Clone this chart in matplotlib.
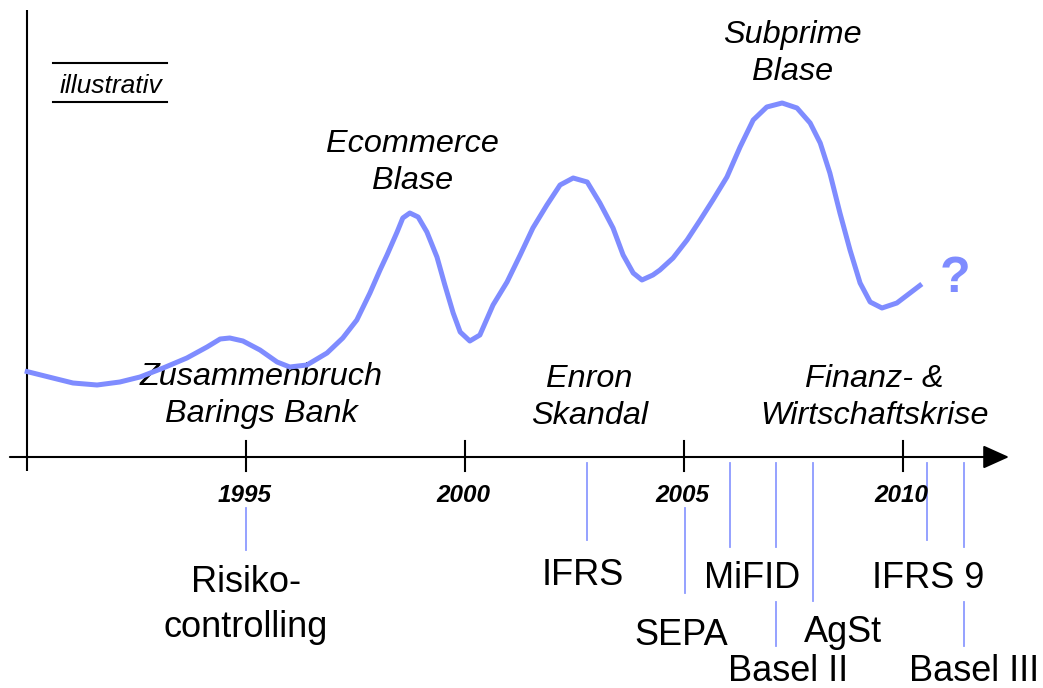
import matplotlib
matplotlib.use("Agg")
import matplotlib.pyplot as plt

plt.rcParams['font.family'] = ['Liberation Sans', 'DejaVu Sans']

# ---- data (illustrative index) ----
years = [1989.95, 1990.59, 1991.05, 1991.60, 1992.12, 1992.58, 1993.11, 1993.65,
         1994.11, 1994.41, 1994.63, 1994.93, 1995.32, 1995.71, 1996.00, 1996.39,
         1996.85, 1997.21, 1997.53, 1997.83, 1998.06, 1998.22, 1998.45, 1998.58,
         1998.74, 1998.93, 1999.13, 1999.36, 1999.54, 1999.73, 1999.89, 2000.11,
         2000.34, 2000.64, 2000.96, 2001.26, 2001.55, 2001.87, 2002.17, 2002.47,
         2002.79, 2003.08, 2003.38, 2003.61, 2003.84, 2004.04, 2004.29, 2004.45,
         2004.75, 2005.07, 2005.37, 2005.66, 2005.98, 2006.28, 2006.58, 2006.89,
         2007.24, 2007.58, 2007.88, 2008.11, 2008.33, 2008.56, 2008.79, 2009.02,
         2009.25, 2009.52, 2009.86, 2010.16, 2010.43]
level = [86, 79, 74, 72, 75, 80, 89, 99,
         110, 118, 119, 116, 107, 95, 90, 92,
         104, 119, 137, 164, 187, 202, 225, 239,
         244, 240, 225, 200, 172, 144, 125, 116,
         122, 152, 175, 202, 229, 252, 272, 279,
         275, 254, 229, 202, 184, 177, 182, 187,
         199, 217, 237, 257, 280, 310, 337, 350,
         354, 349, 334, 314, 284, 244, 207, 174,
         155, 149, 154, 164, 173]

tick_years = [1995, 2000, 2005, 2010]
tick_labels = ['1995', '2000', '2005', '2010']

crisis_labels = ['Zusammenbruch\nBarings Bank', 'Ecommerce\nBlase', 'Enron\nSkandal',
                 'Subprime\nBlase', 'Finanz- &\nWirtschaftskrise']

event_labels = ['Risiko-\ncontrolling', 'IFRS', 'SEPA', 'MiFID', 'Basel II',
                'AgSt', 'IFRS 9', 'Basel III']
event_years = [1995.0, 2002.79, 2005.02, 2006.05, 2007.10, 2007.95, 2010.55, 2011.39]

# ---- layout ----
CURVE = '#7F8CFF'
EVENT = '#8C9AFF'

fig = plt.figure(figsize=(10.43, 6.88), dpi=100)
ax = fig.add_axes([0, 0, 1, 1])
ax.set_xlim(1989.384, 2013.196)
ax.set_ylim(-231, 457)
ax.axis('off')

# axes lines
ax.plot([1990, 1990], [447, -14], color='black', lw=1.5, solid_capstyle='butt')
ax.annotate('', xy=(2012.42, 0), xytext=(1989.61, 0),
            arrowprops=dict(arrowstyle='-|>,head_length=0.4,head_width=0.18',
                            mutation_scale=40, lw=1.5, color='black',
                            shrinkA=0, shrinkB=0))
for ty, tl in zip(tick_years, tick_labels):
    ax.plot([ty, ty], [16, -14], color='black', lw=1.5)
    ax.text(ty - 0.03, -45, tl, ha='center', va='baseline', fontsize=17.5,
            fontweight='bold', fontstyle='italic')

# curve
ax.plot(years, level, color=CURVE, lw=3.6, solid_joinstyle='round',
        solid_capstyle='butt', zorder=3)
ax.text(2011.19, 165, '?', color=CURVE, fontsize=36, fontweight='bold',
        ha='center', va='baseline')

# crisis labels (italic)
crisis_pos = [(1995.34, 72), (1998.81, 305), (2002.84, 70), (2007.47, 414), (2009.34, 70)]
for lab, (cx, cy) in zip(crisis_labels, crisis_pos):
    l1, l2 = lab.split('\n')
    ax.text(cx, cy, l1, ha='center', va='baseline', fontsize=23.3, fontstyle='italic', zorder=2)
    ax.text(cx, cy - 37, l2, ha='center', va='baseline', fontsize=23.3, fontstyle='italic', zorder=2)

# event lines (segments below the axis)
event_spans = [[(-51, -93)], [(-6, -83)], [(-51, -136)], [(-6, -90)],
               [(-6, -90), (-145, -189)], [(-6, -144)], [(-6, -83)],
               [(-6, -90), (-145, -189)]]
for ex, spans in zip(event_years, event_spans):
    for top, bot in spans:
        ax.plot([ex, ex], [top, bot], color=EVENT, lw=1.3)

event_text_pos = [(1995.0, -135), (2002.69, -128), (2004.93, -188), (2006.55, -131),
                  (2007.37, -224), (2008.63, -185), (2010.57, -131), (2011.62, -224)]
for lab, (tx, ty) in zip(event_labels, event_text_pos):
    lines = lab.split('\n')
    for i, ln in enumerate(lines):
        ax.text(tx, ty - 45 * i, ln, ha='center', va='baseline', fontsize=26)

# "illustrativ" tag
ax.text(1991.92, 364, 'illustrativ', ha='center', va='baseline', fontsize=19,
        fontstyle='italic')
ax.plot([1990.59, 1993.20], [394, 394], color='black', lw=1.5)
ax.plot([1990.59, 1993.20], [355, 355], color='black', lw=1.5)

fig.savefig('out.png', dpi=100)
